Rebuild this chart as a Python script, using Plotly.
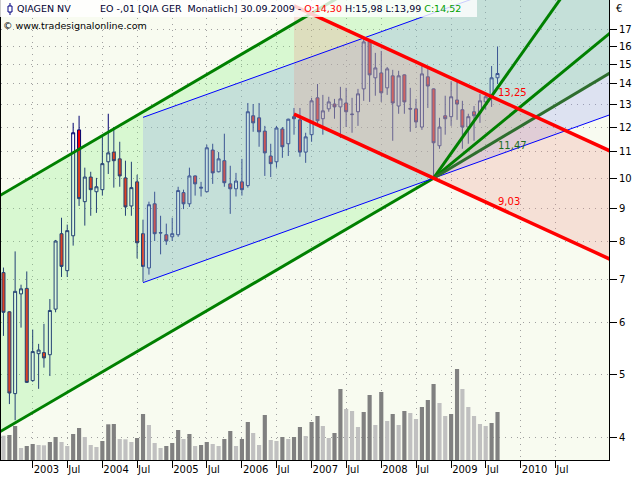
import numpy as np
import pandas as pd
import plotly.graph_objects as go

# ---------------- data (monthly candles, QIAGEN NV, Aug 2002 - Sep 2009) ----------------
months = pd.date_range("2002-08-01", "2009-09-01", freq="MS")

open_ = [7.17, 6.24, 4.67, 6.65, 6.78, 4.89, 5.38, 5.40, 5.36, 6.30,
         8.23, 7.22, 8.17, 11.89, 9.22, 10.06, 9.55, 9.62, 10.62, 10.99,
         10.73, 10.03, 9.08, 9.89, 8.23, 7.29, 9.15, 8.25, 8.20, 8.14,
         8.20, 9.52, 9.15, 10.10, 9.67, 9.55, 11.07, 10.25, 10.66, 9.82,
         9.65, 9.89, 9.76, 12.50, 12.41, 11.84, 10.84, 10.62, 11.93, 11.32,
         12.46, 12.32, 10.99, 11.69, 13.32, 12.37, 12.81, 13.03, 12.90, 13.08,
         12.55, 12.68, 13.75, 16.24, 14.30, 14.55, 13.80, 14.40, 12.94, 14.45,
         12.83, 12.81, 12.01, 14.35, 13.75, 11.24, 12.50, 12.46, 13.22, 12.77,
         12.01, 12.68, 12.63, 13.13, 13.37, 14.30]
high = [7.30, 6.25, 7.73, 6.87, 7.20, 5.86, 5.57, 5.98, 6.53, 8.05,
        8.71, 8.50, 12.19, 12.50, 10.40, 10.25, 10.03, 11.60, 12.59, 12.01,
        11.40, 10.66, 10.62, 10.14, 8.65, 9.22, 9.55, 8.77, 8.53, 8.71,
        9.72, 9.62, 10.40, 10.12, 9.89, 11.28, 11.32, 10.99, 11.73, 10.47,
        10.21, 10.73, 13.08, 13.03, 13.08, 12.06, 11.32, 12.06, 12.01, 12.37,
        12.85, 12.85, 11.77, 13.32, 13.99, 13.46, 13.37, 13.27, 13.85, 13.80,
        13.32, 13.75, 16.53, 16.30, 15.62, 15.73, 14.86, 14.71, 14.66, 14.47,
        13.80, 13.27, 14.96, 14.81, 13.77, 12.41, 13.42, 14.13, 14.13, 13.18,
        12.59, 12.94, 13.51, 13.51, 14.91, 15.98]
low = [5.73, 4.50, 4.25, 5.90, 4.85, 4.87, 4.75, 5.12, 4.97, 6.23,
       7.06, 7.06, 7.89, 9.08, 8.47, 8.77, 8.86, 9.42, 10.17, 9.69,
       9.72, 8.77, 8.77, 7.54, 6.94, 7.12, 8.02, 7.65, 7.91, 8.02,
       8.14, 8.98, 9.05, 9.42, 9.39, 9.53, 9.82, 10.23, 9.72, 8.83,
       9.39, 9.42, 9.69, 11.81, 11.20, 10.10, 10.06, 10.40, 10.77, 10.84,
       11.69, 10.81, 10.58, 11.40, 12.15, 11.69, 12.68, 12.37, 11.56, 12.01,
       11.77, 12.06, 13.18, 13.13, 13.42, 13.13, 13.46, 11.44, 12.59, 12.59,
       11.81, 11.97, 11.89, 12.85, 10.02, 11.12, 11.69, 12.06, 12.32, 11.12,
       11.32, 11.44, 12.19, 12.77, 12.90, 13.99]
close = [6.23, 4.68, 6.71, 6.77, 4.86, 5.42, 5.45, 5.30, 6.27, 8.02,
         7.33, 8.32, 11.77, 9.32, 10.06, 9.62, 9.72, 10.55, 10.96, 10.66,
         10.10, 9.05, 9.69, 7.97, 7.33, 9.12, 8.23, 8.26, 8.02, 8.23,
         9.59, 9.15, 10.10, 9.82, 9.70, 11.16, 10.21, 10.73, 9.86, 9.65,
         9.92, 9.62, 12.68, 12.19, 11.81, 10.96, 10.55, 11.97, 11.20, 12.35,
         12.37, 10.99, 11.60, 13.18, 12.28, 12.72, 13.13, 12.90, 13.27, 12.68,
         12.57, 13.51, 16.24, 14.45, 14.81, 13.56, 14.76, 13.08, 14.40, 13.13,
         12.80, 12.23, 14.50, 13.89, 11.36, 12.01, 12.37, 13.37, 13.03, 12.01,
         12.46, 12.50, 13.18, 13.37, 14.30, 14.52]
# volume (relative units)
volume = [24.3, 25.0, 34.0, 12.0, 14.0, 16.0, 15.0, 14.7, 18.0, 23.0,
          18.0, 14.0, 26.0, 32.0, 23.0, 15.0, 13.0, 19.0, 35.7, 36.0,
          21.0, 20.7, 18.0, 22.0, 46.0, 35.0, 17.0, 12.0, 14.0, 17.0,
          30.0, 21.0, 26.0, 14.0, 15.0, 18.0, 16.0, 14.0, 21.0, 29.0,
          14.0, 21.0, 38.0, 27.0, 15.0, 45.0, 20.0, 19.0, 23.0, 21.0,
          23.0, 33.0, 24.0, 38.0, 44.0, 34.0, 22.0, 27.0, 71.0, 51.0,
          49.0, 33.0, 48.0, 65.0, 35.0, 68.0, 39.0, 46.0, 35.0, 49.0,
          47.0, 41.0, 53.0, 60.0, 76.0, 57.0, 44.0, 46.0, 91.0, 71.0,
          53.0, 44.0, 36.0, 34.0, 37.0, 48.0]

# x-axis ticks
tick_dates = [f"{y}-{m}-01" for y in range(2003, 2011) for m in ("01", "07")]
tick_text = [str(y) if m == "01" else "Jul" for y in range(2003, 2011) for m in ("01", "07")]
price_ticks = list(range(4, 18))

# drawing-tool anchors (date, price)
PIVOT_DATE, PIVOT_PRICE = "2008-10-01", 10.02
LAST_DATE = "2009-09-01"
GREEN_ANCHOR = ("2002-10-01", 4.21)
GREEN_RATIO = 2.31
BLUE_START = "2004-08-01"
BLUE_LOW, BLUE_HIGH = 6.92, 12.43
RED_START = "2006-10-01"
RED_UPPER_LAST, RED_LOWER_LAST = 13.25, 9.03
FAN_STEEP = ("2010-10-01", 20.13)
FAN_MID = ("2010-10-01", 15.04)
FAN_FLAT_LAST = 11.47
label_text = {"upper": "13,25", "flat": "11,47", "lower": "9,03"}

X_RANGE = ["2002-07-19", "2011-04-08"]
Y_RANGE = [3.691, 18.84]
VOL_RANGE = [0, 460]
XL, XR = "2002-05-01", "2011-08-01"


def days(d):
    return (pd.Timestamp(d) - pd.Timestamp("2000-01-01")).days


def ray(d1, p1, d2, p2):
    k = (np.log(p2) - np.log(p1)) / (days(d2) - days(d1))
    return lambda d: float(p1 * np.exp(k * (days(d) - days(d1))))


green_lo = ray(GREEN_ANCHOR[0], GREEN_ANCHOR[1], PIVOT_DATE, PIVOT_PRICE)
blue_lo = ray(BLUE_START, BLUE_LOW, PIVOT_DATE, PIVOT_PRICE)
blue_ratio = BLUE_HIGH / BLUE_LOW
red_lo = ray(PIVOT_DATE, PIVOT_PRICE, LAST_DATE, RED_LOWER_LAST)
red_ratio = RED_UPPER_LAST / RED_LOWER_LAST
fan_steep = ray(PIVOT_DATE, PIVOT_PRICE, *FAN_STEEP)
fan_mid = ray(PIVOT_DATE, PIVOT_PRICE, *FAN_MID)
fan_flat = ray(PIVOT_DATE, PIVOT_PRICE, LAST_DATE, FAN_FLAT_LAST)

fig = go.Figure()


def band(lo, ratio, d0, d1, color):
    xs = [d0, d1, d1, d0, d0]
    ys = [lo(d0), lo(d1), lo(d1) * ratio, lo(d0) * ratio, lo(d0)]
    fig.add_trace(go.Scatter(x=xs, y=ys, mode="lines", fill="toself", fillcolor=color,
                             line=dict(width=0), hoverinfo="skip"))


def seg(f, d0, d1, color, width, ratio=1.0):
    fig.add_trace(go.Scatter(x=[d0, d1], y=[f(d0) * ratio, f(d1) * ratio], mode="lines",
                             line=dict(color=color, width=width), hoverinfo="skip"))


band(green_lo, GREEN_RATIO, XL, XR, "rgba(130,240,125,0.27)")
band(blue_lo, blue_ratio, BLUE_START, XR, "rgba(140,150,245,0.25)")
band(red_lo, red_ratio, RED_START, XR, "rgba(236,143,136,0.25)")

fig.add_trace(go.Candlestick(
    x=months, open=open_, high=high, low=low, close=close,
    increasing=dict(line=dict(color="#000070", width=1), fillcolor="white"),
    decreasing=dict(line=dict(color="#000070", width=1), fillcolor="#ff0000"),
    whiskerwidth=0, hoverinfo="skip"))

vol_colors = ["#c0c0c0"] + ["#808080" if volume[i] > volume[i - 1] else "#c0c0c0"
                            for i in range(1, len(volume))]
fig.add_trace(go.Bar(x=months, y=volume, yaxis="y2", marker=dict(color=vol_colors, line=dict(width=0)),
                     hoverinfo="skip"))

GREEN = "#008000"
seg(green_lo, XL, XR, GREEN, 3, GREEN_RATIO)
seg(green_lo, XL, PIVOT_DATE, GREEN, 3)
seg(blue_lo, BLUE_START, XR, "#0000ff", 1)
seg(blue_lo, BLUE_START, XR, "#0000ff", 1, blue_ratio)
seg(fan_steep, PIVOT_DATE, XR, GREEN, 3)
seg(fan_mid, PIVOT_DATE, XR, GREEN, 3)
seg(fan_flat, PIVOT_DATE, XR, "#2e6e2e", 3)
seg(red_lo, RED_START, XR, "#ff0000", 3.5)
seg(red_lo, RED_START, XR, "#ff0000", 3.5, red_ratio)

FONT = "DejaVu Sans"
ann = []
for key, val, col, anchor, dy in (("upper", RED_UPPER_LAST, "#ff0000", "bottom", -1),
                                  ("flat", FAN_FLAT_LAST, "#1e6e1e", "top", 2),
                                  ("lower", RED_LOWER_LAST, "#ff0000", "bottom", -1)):
    ann.append(dict(x=LAST_DATE, y=np.log10(val), xref="x", yref="y", text=label_text[key],
                    showarrow=False, xanchor="left", yanchor=anchor, xshift=-2, yshift=dy,
                    font=dict(family=FONT, size=10, color=col)))

fmt = lambda v: f"{v:.2f}".replace(".", ",")
header = ("EO -,01 [QIA GER&nbsp; Monatlich] 30.09.2009 - "
          f"<span style='color:#ff0000'>O:{fmt(open_[-1])}</span> "
          f"H:{fmt(high[-1])} L:{fmt(low[-1])} "
          f"<span style='color:#00a000'>C:{fmt(close[-1])}</span>")
ann.append(dict(x=0, y=1, xref="paper", yref="paper", xanchor="left", yanchor="top",
                xshift=14, yshift=-1, text="QIAGEN NV", showarrow=False,
                font=dict(family=FONT, size=9.5, color="#000030")))
ann.append(dict(x=0, y=1, xref="paper", yref="paper", xanchor="left", yanchor="top",
                xshift=97, yshift=-1, text=header, showarrow=False,
                font=dict(family=FONT, size=9.5, color="#000030")))
ann.append(dict(x=0, y=1, xref="paper", yref="paper", xanchor="left", yanchor="top",
                xshift=0, yshift=-18, text="© www.tradesignalonline.com", showarrow=False,
                font=dict(family=FONT, size=9.5, color="#000000")))
ann.append(dict(x=1, y=1, xref="paper", yref="paper", xanchor="left", yanchor="top",
                xshift=5, yshift=-1, text="€", showarrow=False,
                font=dict(family=FONT, size=10, color="#000000")))

shapes = [
    dict(type="rect", xref="paper", yref="paper", xsizemode="pixel", ysizemode="pixel",
         xanchor=0, yanchor=1, x0=-1, x1=476, y0=0, y1=-17, layer="above",
         fillcolor="rgba(255,255,255,0.8)", line=dict(width=0)),
    dict(type="line", xref="paper", yref="paper", xsizemode="pixel", ysizemode="pixel",
         xanchor=0, yanchor=1, x0=9, x1=9, y0=-3, y1=-15, layer="above",
         line=dict(color="#000080", width=1)),
    dict(type="rect", xref="paper", yref="paper", xsizemode="pixel", ysizemode="pixel",
         xanchor=0, yanchor=1, x0=7, x1=11, y0=-6, y1=-12, layer="above",
         fillcolor="white", line=dict(color="#000080", width=1)),
]

grid = dict(showgrid=True, gridcolor="#a0a0a0", griddash="1px,5px", gridwidth=1)
fig.update_layout(
    width=640, height=480, margin=dict(l=1, r=31, t=0, b=20),
    paper_bgcolor="white", plot_bgcolor="#f8fbf0", showlegend=False, hovermode=False,
    bargap=0.22, boxgap=0.2, font=dict(family=FONT, size=10, color="black"),
    annotations=ann, shapes=shapes,
    xaxis=dict(type="date", range=X_RANGE, tickvals=tick_dates, ticktext=tick_text,
               ticks="outside", ticklen=7, tickcolor="black", showline=True, linecolor="black",
               linewidth=1, zeroline=False, rangeslider=dict(visible=False),
               ticklabelposition="outside right", **grid),
    yaxis=dict(type="log", range=[np.log10(Y_RANGE[0]), np.log10(Y_RANGE[1])], side="right",
               tickvals=price_ticks, ticktext=[str(v) for v in price_ticks],
               ticks="outside", ticklen=7, tickcolor="black", showline=True, mirror=True,
               linecolor="black", linewidth=1, zeroline=False, **grid),
    yaxis2=dict(overlaying="y", range=VOL_RANGE, visible=False),
)

fig.write_html("out.html", config={"staticPlot": True},
               post_script="document.body.style.margin='0';document.body.style.overflow='hidden';")
